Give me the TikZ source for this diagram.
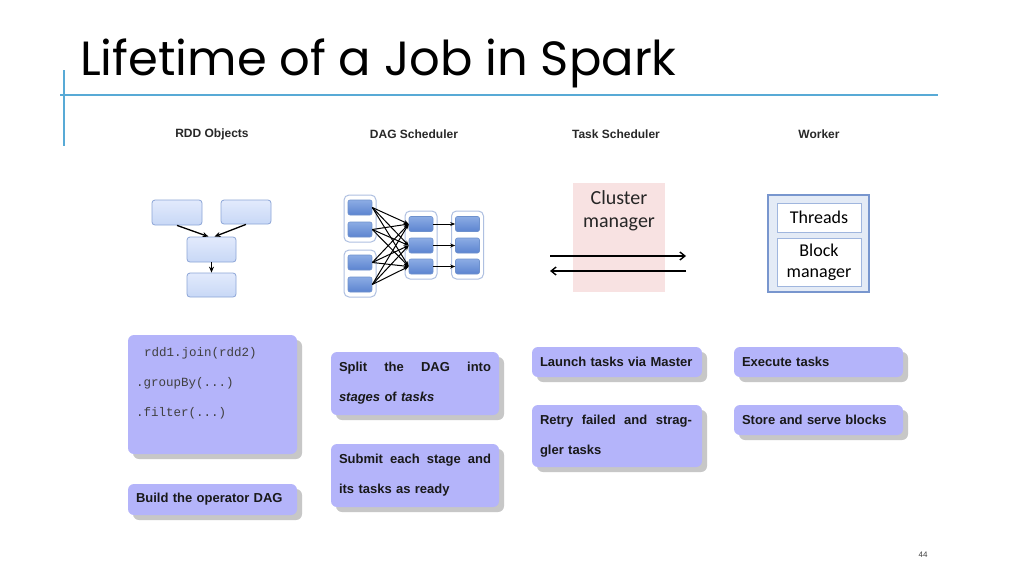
\documentclass[tikz,border=0pt]{standalone}
\usepackage{fontspec}
\setmainfont{Liberation Sans}
\setmonofont{Liberation Mono}
\newfontfamily\titlefont{Poppins}
\newfontfamily\cmfont{Carlito}
\usetikzlibrary{arrows.meta,shadows}
\definecolor{rulecol}{RGB}{88,170,214}
\definecolor{headgray}{RGB}{40,40,40}
\definecolor{rddline}{RGB}{140,165,215}
\definecolor{rddtop}{RGB}{226,234,252}
\definecolor{rddbot}{RGB}{200,216,246}
\definecolor{dagline}{RGB}{110,145,205}
\definecolor{dagtop}{RGB}{140,172,228}
\definecolor{dagbot}{RGB}{92,132,208}
\definecolor{grpline}{RGB}{175,192,225}
\definecolor{cmfill}{RGB}{248,226,226}
\definecolor{wkline}{RGB}{120,150,206}
\definecolor{wkfill}{RGB}{228,235,246}
\definecolor{wkinner}{RGB}{160,182,222}
\definecolor{descfill}{RGB}{180,180,250}
\definecolor{desctext}{RGB}{25,25,25}
\tikzset{
  colhead/.style={font=\bfseries\fontsize{12}{14}\selectfont,text=headgray},
  rddbox/.style={draw=rddline,line width=0.8pt,rounded corners=3pt,top color=rddtop,bottom color=rddbot,inner sep=0pt},
  dagbox/.style={draw=dagline,line width=0.6pt,rounded corners=2pt,top color=dagtop,bottom color=dagbot,minimum width=24pt,minimum height=15pt,inner sep=0pt},
  grpbox/.style={draw=grpline,line width=1pt,rounded corners=5pt,fill=white,minimum width=32pt,inner sep=0pt},
  wkbox/.style={draw=wkinner,line width=0.8pt,fill=white,minimum width=84pt,inner sep=0pt,align=center,font=\cmfont\fontsize{18}{21}\selectfont},
  descbox/.style={fill=descfill,rounded corners=6pt,
    drop shadow={shadow xshift=5pt,shadow yshift=-5pt,fill=gray!80,opacity=0.55},
    inner xsep=8pt,inner ysep=0pt,text width=#1,align=left,text=desctext,
    font=\bfseries\fontsize{13}{30}\selectfont},
  descbox/.default=153pt,
  fan/.style={-{Stealth[length=5pt,width=4pt]},line width=1pt,black},
  pass/.style={-{Stealth[length=6pt,width=5pt]},line width=1.3pt,black},
  cmarrow/.style={-{Straight Barb[length=5pt,width=8pt]},line width=1.4pt,black}
}
\begin{document}
\begin{tikzpicture}[x=1pt,y=-1pt]
\useasboundingbox (0,0) rectangle (1024,576);
\fill[white] (0,0) rectangle (1024,576);
% title and rules
\node[anchor=base west,inner sep=0pt] (title) at (80,75) {\titlefont\fontsize{48}{50}\selectfont Lifetime of a Job in Spark};
\draw[rulecol,line width=1.5pt] (60,95) -- (938,95);
\draw[rulecol,line width=1.5pt] (64,70) -- (64,146);
% column heads
\node[colhead] (hrdd) at (212,134) {RDD Objects};
\node[colhead] (hdag) at (414,134) {DAG Scheduler};
\node[colhead] (htask) at (616,134) {Task Scheduler};
\node[colhead] (hwork) at (819,134) {Worker};
% RDD objects
\node[rddbox,minimum width=50pt,minimum height=25pt] (rddA) at (177,212.5) {};
\node[rddbox,minimum width=50pt,minimum height=24pt] (rddB) at (246,212) {};
\node[rddbox,minimum width=49pt,minimum height=25pt] (rddC) at (211.5,249.5) {};
\node[rddbox,minimum width=49pt,minimum height=24pt] (rddD) at (211.5,285) {};
\draw[pass] (rddA.south) -- ([xshift=-3pt]rddC.north);
\draw[pass] (rddB.south) -- ([xshift=3pt]rddC.north);
\draw[pass] (rddC.south) -- (rddD.north);
% DAG scheduler
\node[grpbox,minimum height=47pt] (grp1) at (360,218.5) {};
\node[grpbox,minimum height=47pt] (grp2) at (360,273.5) {};
\node[grpbox,minimum height=68pt] (grp3) at (421,245) {};
\node[grpbox,minimum height=68pt] (grp4) at (467.5,245) {};
\node[dagbox] (l1) at (360,207.5) {};
\node[dagbox] (l2) at (360,229.5) {};
\node[dagbox] (l3) at (360,262.5) {};
\node[dagbox] (l4) at (360,284.5) {};
\node[dagbox] (m1) at (421,224) {};
\node[dagbox] (m2) at (421,245.5) {};
\node[dagbox] (m3) at (421,266.5) {};
\node[dagbox] (r1) at (467.5,224) {};
\node[dagbox] (r2) at (467.5,245.5) {};
\node[dagbox] (r3) at (467.5,266.5) {};
\foreach \a in {l1,l2,l3,l4}
  \foreach \b in {m1,m2,m3}
    \draw[fan] (\a.east) -- (\b.west);
\draw[fan] (m1) -- (r1);
\draw[fan] (m2) -- (r2);
\draw[fan] (m3) -- (r3);
% task scheduler
\node[fill=cmfill,minimum width=92pt,minimum height=109pt,inner sep=0pt] (cm) at (619,237.5) {};
\node[align=center,font=\cmfont\fontsize{20}{23}\selectfont,text=black!85] (cmtext) at (619,211) {Cluster\\manager};
\coordinate (sendL) at (550,256);
\coordinate (sendR) at (686,256);
\coordinate (backR) at (686,271);
\coordinate (backL) at (550,271);
\draw[cmarrow] (sendL) -- (sendR);
\draw[cmarrow] (backR) -- (backL);
% worker
\node[draw=wkline,line width=2.5pt,fill=wkfill,minimum width=101pt,minimum height=97pt,inner sep=0pt] (wk) at (818.5,243.5) {};
\node[wkbox,minimum height=29pt] (threads) at (819,217.5) {Threads};
\node[wkbox,minimum height=48pt] (blockm) at (819,262.5) {Block\\manager};
% step descriptions
\node[descbox,minimum height=119pt,font=\ttfamily\fontsize{12.5}{30}\selectfont,text=black!75] (code) at (212.5,394.5)
  {\hspace*{8pt}rdd1.join(rdd2)\\.groupBy(...)\\.filter(...)\\[-13pt]\strut};
\node[descbox,minimum height=31pt] (build) at (212.5,499.5) {Build the operator DAG};
\node[descbox=152pt,minimum height=63pt] (split) at (415,383.5)
  {\hbox to 152pt{Split\hfill the\hfill DAG\hfill into}\\\textit{stages} of \textit{tasks}};
\node[descbox=152pt,minimum height=63pt] (submit) at (415,475.5)
  {\hbox to 152pt{Submit\hfill each\hfill stage\hfill and}\\its tasks as ready};
\node[descbox=154pt,minimum height=30pt] (launch) at (617,362) {Launch tasks via Master};
\node[descbox=154pt,minimum height=62pt] (retry) at (617,436)
  {\hbox to 152pt{Retry\hfill failed\hfill and\hfill strag-}\\gler tasks};
\node[descbox,minimum height=30pt] (execute) at (818.5,362) {Execute tasks};
\node[descbox,minimum height=30pt] (store) at (818.5,420) {Store and serve blocks};
% page number
\node[font=\fontsize{8}{10}\selectfont,text=black!75] (pgnum) at (923,555) {44};
\end{tikzpicture}
\end{document}
